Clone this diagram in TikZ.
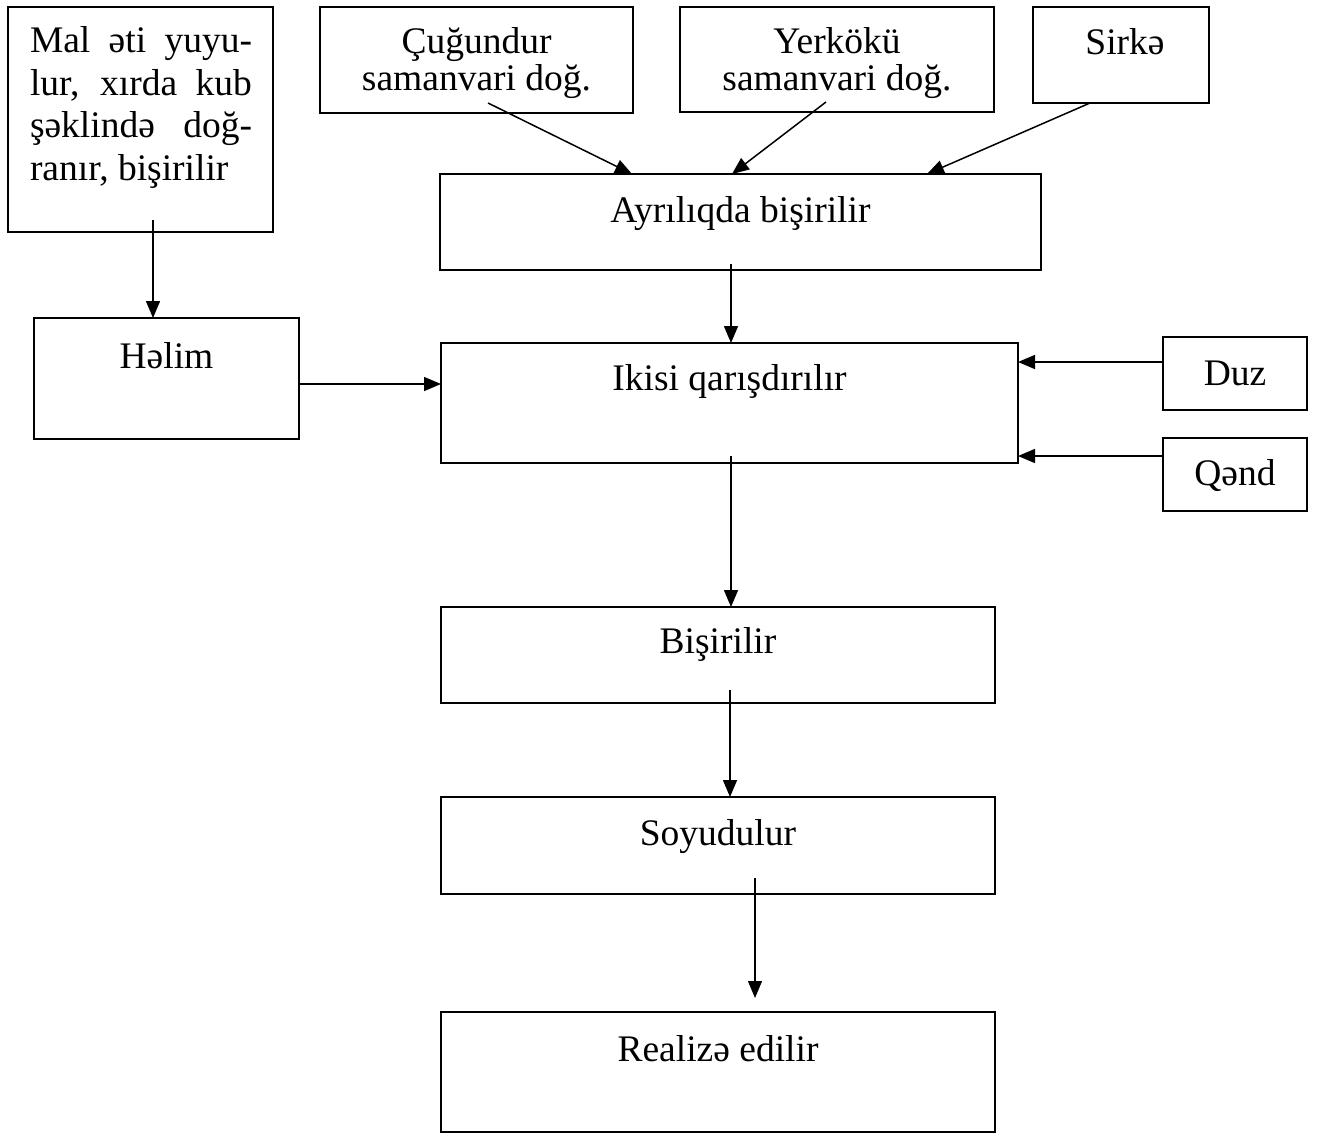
\documentclass[tikz,border=0pt]{standalone}
\usepackage{fontspec}
\setmainfont{Liberation Serif}
\usetikzlibrary{arrows.meta}
\begin{document}
\begin{tikzpicture}[x=1pt,y=-1pt,
  box/.style={draw, line width=1.5pt, rectangle, inner sep=0pt, outer sep=0pt},
  txt/.style={inner sep=0pt, outer sep=0pt, anchor=base, font=\fontsize{37.5}{44}\selectfont},
  txtl/.style={inner sep=0pt, outer sep=0pt, anchor=base west, font=\fontsize{37.5}{44}\selectfont},
  arr/.style={line width=1.5pt, -{Triangle[length=17pt,width=14pt]}},
  arrthin/.style={line width=1.2pt, -{Triangle[length=17pt,width=14pt]}}
]
\useasboundingbox (0,0) rectangle (1320,1133);
\fill[white] (0,0) rectangle (1320,1133);

% boxes
\node[box, minimum width=265pt, minimum height=225pt] (mal) at (140.5,119.5) {};
\node[box, minimum width=313pt, minimum height=106pt] (cug) at (476.5,60) {};
\node[box, minimum width=314pt, minimum height=105pt] (yer) at (837,59.5) {};
\node[box, minimum width=176pt, minimum height=96pt] (sir) at (1121,55) {};
\node[box, minimum width=601pt, minimum height=96pt] (ayr) at (740.5,222) {};
\node[box, minimum width=265pt, minimum height=121pt] (hel) at (166.5,378.5) {};
\node[box, minimum width=577pt, minimum height=120pt] (iki) at (729.5,403) {};
\node[box, minimum width=144pt, minimum height=73pt] (duz) at (1235,373.5) {};
\node[box, minimum width=144pt, minimum height=73pt] (qend) at (1235,474.5) {};
\node[box, minimum width=554pt, minimum height=96pt] (bis) at (718,655) {};
\node[box, minimum width=554pt, minimum height=97pt] (soy) at (718,845.5) {};
\node[box, minimum width=554pt, minimum height=120pt] (rea) at (718,1072) {};

% texts
\node[txtl] (mal1) at (30,52) {\makebox[222pt][s]{Mal əti yuyu-}};
\node[txtl] (mal2) at (30,95) {\makebox[222pt][s]{lur, xırda kub}};
\node[txtl] (mal3) at (30,137) {\makebox[222pt][s]{şəklində doğ-}};
\node[txtl] (mal4) at (30,180) {ranır, bişirilir};
\node[txt] (cug1) at (476.5,53) {Çuğundur};
\node[txt] (cug2) at (476.5,90) {samanvari doğ.};
\node[txt] (yer1) at (837,53) {Yerkökü};
\node[txt] (yer2) at (837,90) {samanvari doğ.};
\node[txt] (sir1) at (1125,54) {Sirkə};
\node[txt] (ayr1) at (740.5,222) {Ayrılıqda bişirilir};
\node[txt] (hel1) at (166.5,368) {Həlim};
\node[txt] (iki1) at (729.5,390) {Ikisi qarışdırılır};
\node[txt] (duz1) at (1235,385) {Duz};
\node[txt] (qend1) at (1235,485) {Qənd};
\node[txt] (bis1) at (718,653) {Bişirilir};
\node[txt] (soy1) at (718,845) {Soyudulur};
\node[txt] (rea1) at (718,1061) {Realizə edilir};

% connectors
\draw[arr] ([xshift=12.5pt,yshift=12pt]mal.south) -- ([xshift=-13.5pt]hel.north);
\draw[arr] ([yshift=-5.5pt]hel.east) -- ([yshift=19pt]iki.west);
\draw[arr] ([xshift=11.5pt,yshift=10pt]cug.south) -- ([xshift=-108.5pt]ayr.north);
\draw[arr] ([xshift=-11pt,yshift=10pt]yer.south) -- ([xshift=-8.5pt]ayr.north);
\draw[arr] ([xshift=-31pt]sir.south) -- ([xshift=186.5pt]ayr.north);
\draw[arr] ([xshift=-9.5pt,yshift=6pt]ayr.south) -- ([xshift=1.5pt]iki.north);
\draw[arr] ([yshift=11.5pt]duz.west) -- ([yshift=41pt]iki.east);
\draw[arr] ([yshift=18.5pt]qend.west) -- ([yshift=-53pt]iki.east);
\draw[arr] ([xshift=1.5pt,yshift=7pt]iki.south) -- ([xshift=13pt]bis.north);
\draw[arr] ([xshift=12pt,yshift=13pt]bis.south) -- ([xshift=12pt]soy.north);
\draw[arrthin] ([xshift=37pt,yshift=16pt]soy.south) -- ([xshift=37pt,yshift=14pt]rea.north);
\end{tikzpicture}
\end{document}
